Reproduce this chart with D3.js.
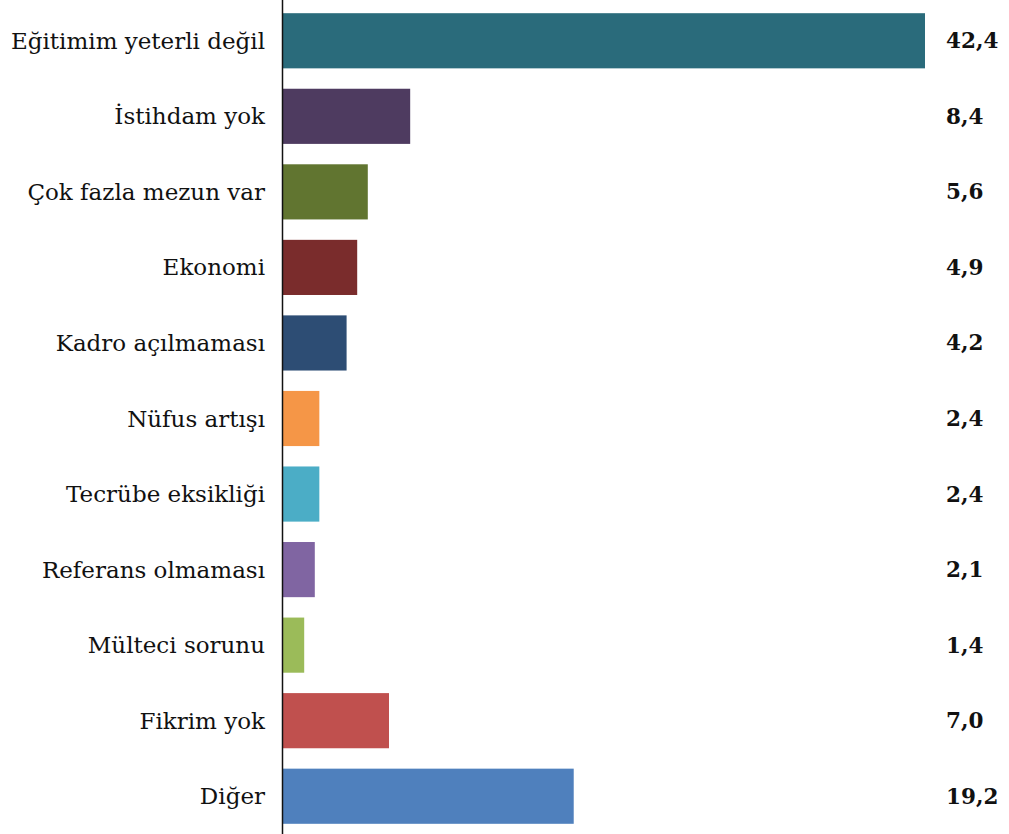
<!DOCTYPE html>
<html>
<head>
<meta charset="utf-8">
<script src="https://cdn.jsdelivr.net/npm/d3@7"></script>
<style>
  html, body { margin: 0; padding: 0; background: #fff; }
  svg { display: block; }
</style>
</head>
<body>
<div id="chart"></div>
<script>
// Reasons for unemployment among graduates (%)
const categories = [
  "Eğitimim yeterli değil",
  "İstihdam yok",
  "Çok fazla mezun var",
  "Ekonomi",
  "Kadro açılmaması",
  "Nüfus artışı",
  "Tecrübe eksikliği",
  "Referans olmaması",
  "Mülteci sorunu",
  "Fikrim yok",
  "Diğer"
];
const values = [42.4, 8.4, 5.6, 4.9, 4.2, 2.4, 2.4, 2.1, 1.4, 7.0, 19.2];
const colors = [
  "#2a6b7b", "#4e3b60", "#617530", "#7a2c2c", "#2d4d74", "#f59647",
  "#4badc6", "#8065a2", "#9bbb59", "#c0504e", "#4f80bd"
];

const width = 1009, height = 834;
const axisX = 283;

const svg = d3.select("#chart").append("svg")
  .attr("width", width)
  .attr("height", height);

const x = d3.scaleLinear().domain([0, 42.4]).range([axisX, 925]);
const y = d3.scaleBand().domain(categories).range([3, 834]).paddingInner(0.27).paddingOuter(0.135);

const fmt = v => d3.format(".1f")(v).replace(".", ",");

svg.selectAll("rect.bar")
  .data(categories)
  .join("rect")
  .attr("class", "bar")
  .attr("x", x(0))
  .attr("y", d => y(d))
  .attr("width", (d, i) => x(values[i]) - x(0))
  .attr("height", y.bandwidth())
  .attr("fill", (d, i) => colors[i]);

// category labels
svg.selectAll("text.cat")
  .data(categories)
  .join("text")
  .attr("class", "cat")
  .attr("x", 265)
  .attr("y", d => y(d) + y.bandwidth() / 2)
  .attr("dy", "0.35em")
  .attr("text-anchor", "end")
  .attr("font-family", "DejaVu Serif")
  .attr("font-size", 23)
  .attr("fill", "#111")
  .text(d => d);

// value labels
svg.selectAll("text.val")
  .data(categories)
  .join("text")
  .attr("class", "val")
  .attr("x", 946)
  .attr("y", d => y(d) + y.bandwidth() / 2)
  .attr("dy", "0.35em")
  .attr("font-family", "DejaVu Serif")
  .attr("font-weight", "bold")
  .attr("font-size", 21.5)
  .attr("fill", "#111")
  .text((d, i) => fmt(values[i]));

// vertical axis line
svg.append("line")
  .attr("x1", axisX - 0.5).attr("x2", axisX - 0.5)
  .attr("y1", 0).attr("y2", height)
  .attr("stroke", "#111")
  .attr("stroke-width", 1.5);
</script>
</body>
</html>
